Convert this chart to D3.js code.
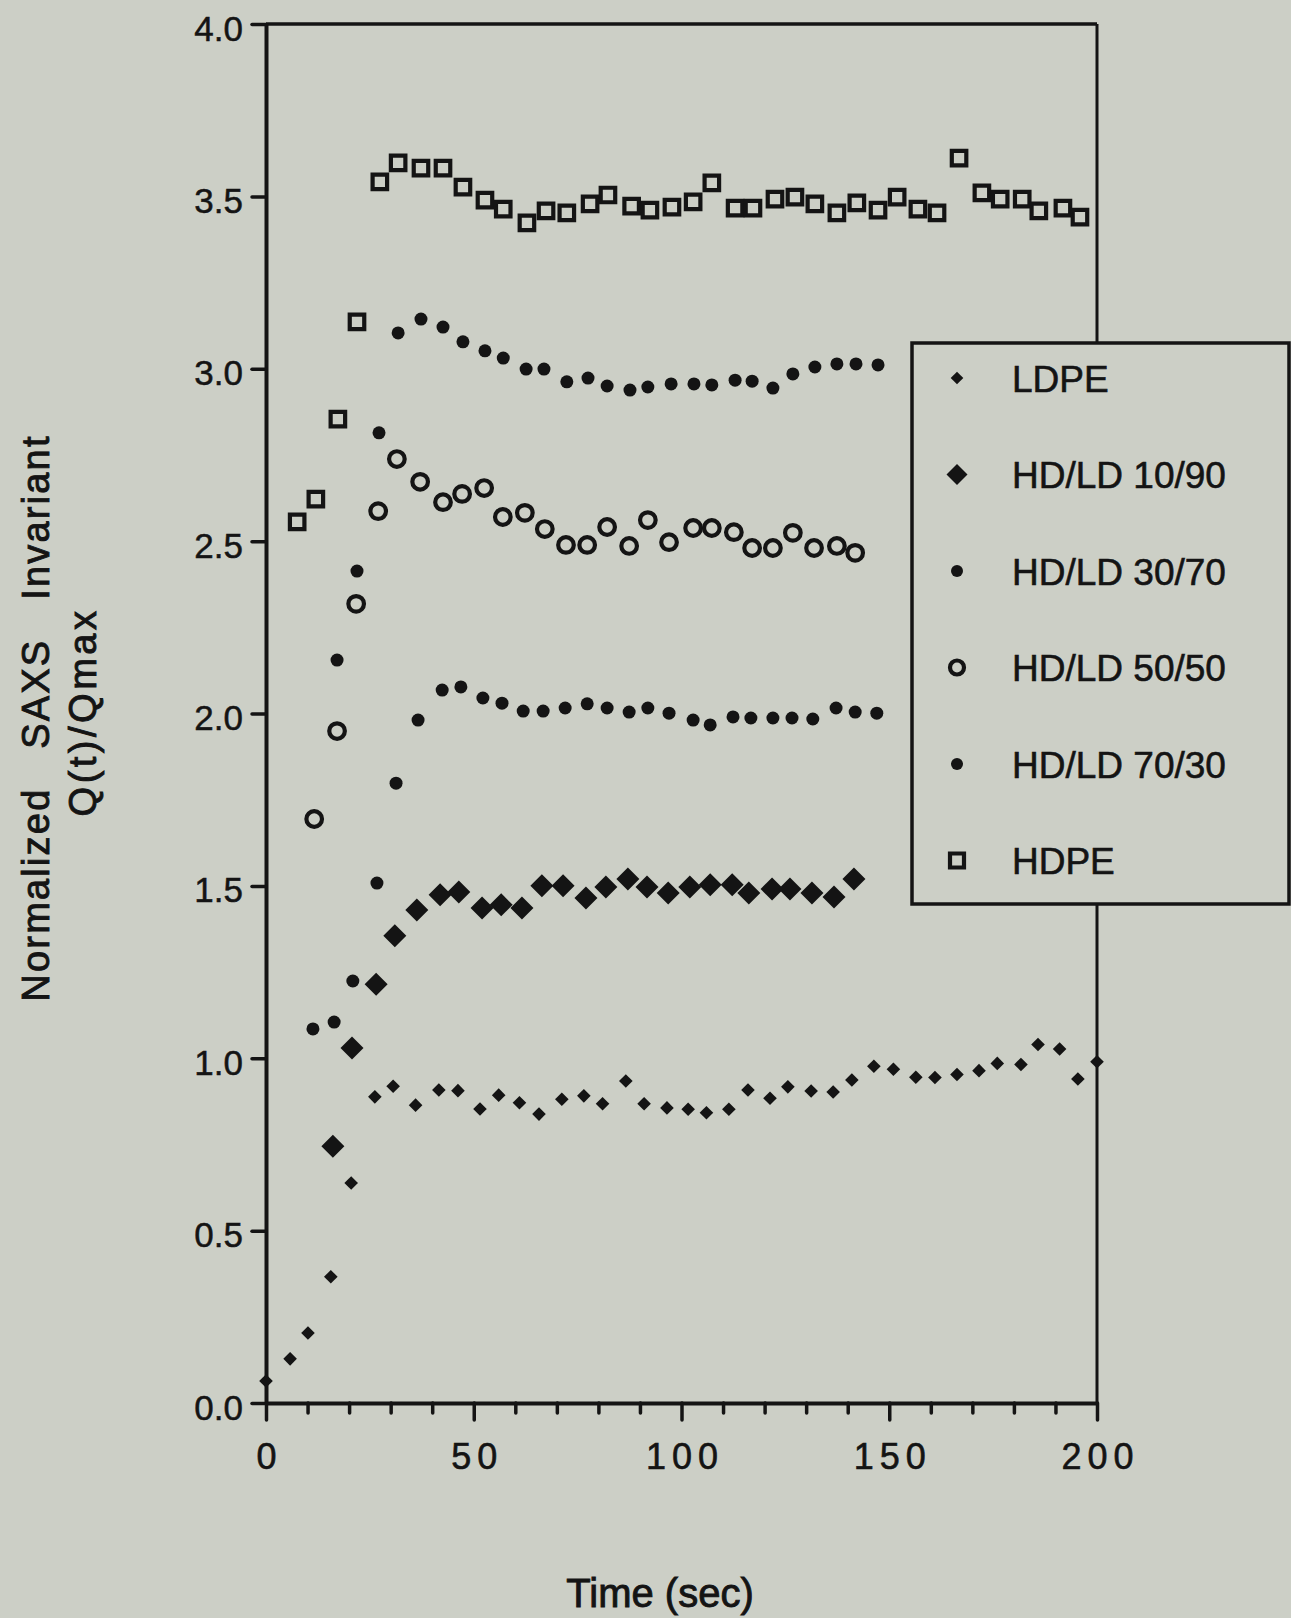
<!DOCTYPE html>
<html><head><meta charset="utf-8">
<script src="https://cdn.jsdelivr.net/npm/d3@7"></script>
<style>body{margin:0;background:#cccfc6}svg{display:block}</style>
</head><body>
<svg id="c" width="1291" height="1618"></svg>
<script>
// ---------- data ----------
const seriesNames = ["LDPE","HD/LD 10/90","HD/LD 30/70","HD/LD 50/50","HD/LD 70/30","HDPE"];

const timesLDPE = [0,5.8,10.1,15.6,20.5,26.2,30.6,36,41.6,46.2,51.5,56,61,65.7,71.2,76.5,81,86.6,91,96.5,101.6,106,111.4,116,121.3,125.6,131.2,136.5,141,146.3,151,156.4,161,166.3,171.6,176,181.7,185.8,191,195.4,200];
const valuesLDPE = [0.064,0.128,0.203,0.366,0.638,0.888,0.919,0.864,0.908,0.906,0.853,0.893,0.871,0.838,0.881,0.891,0.868,0.934,0.868,0.856,0.852,0.842,0.852,0.908,0.884,0.917,0.905,0.902,0.937,0.977,0.968,0.945,0.944,0.953,0.964,0.985,0.982,1.04,1.027,0.94,0.99];

const times1090 = [16.1,20.7,26.5,31,36.3,41.9,46.4,52,56.6,61.6,66.4,71.5,77,81.8,87.1,91.7,96.8,102,106.9,112.2,116.2,121.8,126.1,131.4,136.7,141.5];
const values1090 = [0.745,1.030,1.215,1.355,1.430,1.474,1.482,1.436,1.445,1.436,1.500,1.500,1.465,1.497,1.520,1.497,1.479,1.497,1.503,1.503,1.479,1.491,1.491,1.479,1.468,1.520];

const times3070 = [11.3,16.4,20.9,26.7,31.3,36.6,42.4,46.9,52.2,56.8,61.9,66.7,72,77.3,82.1,87.4,91.9,97,102.8,106.9,112.4,116.7,122,126.6,131.6,137.2,141.8,147];
const values3070 = [1.085,1.105,1.224,1.508,1.798,1.981,2.068,2.077,2.045,2.030,2.007,2.007,2.016,2.028,2.016,2.004,2.016,2.001,1.981,1.967,1.990,1.987,1.987,1.987,1.984,2.016,2.004,2.001];

const times5050 = [11.6,17.1,21.7,27,31.5,37.1,42.6,47.2,52.5,57,62.3,67.1,72.2,77.3,82.1,87.4,91.9,97,102.8,107.3,112.6,117,122,126.8,131.9,137.4,141.8];
const values5050 = [1.694,1.949,2.318,2.587,2.738,2.672,2.613,2.637,2.654,2.570,2.582,2.535,2.489,2.489,2.541,2.486,2.561,2.497,2.538,2.538,2.526,2.480,2.480,2.524,2.480,2.486,2.466];

const times7030 = [17.1,21.9,27.2,31.8,37.3,42.6,47.4,52.7,57.1,62.6,66.9,72.4,77.5,82.1,87.6,91.9,97.5,103,107.3,112.9,117,122,126.8,132.1,137.4,142,147.3];
const values7030 = [2.155,2.413,2.814,3.104,3.144,3.121,3.078,3.052,3.031,2.999,2.999,2.962,2.973,2.950,2.938,2.947,2.956,2.956,2.953,2.967,2.964,2.944,2.985,3.005,3.014,3.014,3.011];

const timesHDPE = [7.5,12,17.3,21.9,27.4,31.8,37.3,42.6,47.4,52.7,57.1,62.8,67.4,72.4,78,82.3,88,92.4,97.7,102.8,107.3,112.9,117.2,122.5,127.3,132.1,137.4,142.2,147.3,151.9,156.9,161.5,166.8,172.3,176.7,182,186,191.8,195.9];
const valuesHDPE = [2.556,2.622,2.854,3.136,3.542,3.597,3.582,3.582,3.527,3.489,3.463,3.423,3.458,3.452,3.478,3.504,3.472,3.460,3.469,3.484,3.539,3.466,3.466,3.492,3.498,3.478,3.452,3.481,3.460,3.498,3.463,3.452,3.611,3.510,3.492,3.492,3.458,3.466,3.440];

const xTicks = [0,50,100,150,200];
const xMinorTicks = [10,20,30,40,60,70,80,90,110,120,130,140,160,170,180,190];
const yTicks = [0,0.5,1,1.5,2,2.5,3,3.5,4];
const xTitle = "Time (sec)";
const yTitle1 = "Normalized SAXS Invariant";
const yTitle2 = "Q(t)/Qmax";

// ---------- drawing ----------
const W = 1291, H = 1618;
const bg = "#cccfc6", ink = "#141414";
const svg = d3.select("#c");
svg.append("rect").attr("width", W).attr("height", H).attr("fill", bg);

const x = d3.scaleLinear().domain([0, 200]).range([266, 1097]);
const y = d3.scaleLinear().domain([0, 4]).range([1403, 24]);

const font = "Liberation Sans, Arial, Helvetica, sans-serif";
const g = svg.append("g");

// frame: top and right
g.append("line").attr("x1", x(0)).attr("x2", x(200)).attr("y1", y(4)).attr("y2", y(4))
  .attr("stroke", ink).attr("stroke-width", 3.5);
g.append("line").attr("x1", x(200)).attr("x2", x(200)).attr("y1", y(4)).attr("y2", y(0))
  .attr("stroke", ink).attr("stroke-width", 3);

// y axis
const yAx = g.append("g").attr("transform", `translate(${x(0)},0)`)
  .call(d3.axisLeft(y).tickValues(yTicks).tickFormat(d3.format(".1f")).tickSize(14).tickSizeOuter(0).tickPadding(9));
// x minor ticks
const xMin = g.append("g").attr("transform", `translate(0,${y(0)})`)
  .call(d3.axisBottom(x).tickValues(xMinorTicks).tickFormat("").tickSize(10).tickSizeOuter(0));
xMin.select(".domain").remove();
// x axis
const xAx = g.append("g").attr("transform", `translate(0,${y(0)})`)
  .call(d3.axisBottom(x).tickValues(xTicks).tickFormat(d3.format("d")).tickSize(17).tickSizeOuter(0).tickPadding(23));

[yAx, xAx, xMin].forEach(a => {
  a.selectAll(".domain").attr("stroke", ink).attr("stroke-width", 4);
  a.selectAll(".tick line").attr("stroke", ink).attr("stroke-width", 3.5).attr("stroke-linecap", "round");
});
yAx.selectAll(".tick text").attr("font-family", font).attr("font-size", 35).attr("fill", ink)
  .attr("stroke", ink).attr("stroke-width", 0.5).attr("dy", "0.46em");
xAx.selectAll(".tick text").attr("font-family", font).attr("font-size", 36).attr("fill", ink)
  .attr("stroke", ink).attr("stroke-width", 0.6).attr("letter-spacing", 6).attr("dx", 3);

// axis titles
svg.append("text").attr("x", 660).attr("y", 1607).attr("text-anchor", "middle")
  .attr("font-family", font).attr("font-size", 40).attr("fill", ink)
  .attr("stroke", ink).attr("stroke-width", 0.9).text(xTitle);
svg.append("text").attr("transform", "translate(49,718) rotate(-90)").attr("text-anchor", "middle")
  .attr("font-family", font).attr("font-size", 38).attr("fill", ink)
  .attr("stroke", ink).attr("stroke-width", 0.9)
  .attr("letter-spacing", 2.2).attr("word-spacing", 26).text(yTitle1);
svg.append("text").attr("transform", "translate(96,712) rotate(-90)").attr("text-anchor", "middle")
  .attr("font-family", font).attr("font-size", 38).attr("fill", ink)
  .attr("stroke", ink).attr("stroke-width", 0.9)
  .attr("letter-spacing", 3.5).text(yTitle2);

// markers
const markerStyles = [
  {kind: "diamond", half: 6.8},      // LDPE
  {kind: "diamond", half: 11.5},     // 10/90
  {kind: "dot", r: 6.5},             // 30/70
  {kind: "circle", r: 7.8},          // 50/50
  {kind: "dot", r: 6.5},             // 70/30
  {kind: "square", side: 14.5}       // HDPE
];
const legendStyles = [
  {kind: "diamond", half: 6.3},
  {kind: "diamond", half: 10.5},
  {kind: "dot", r: 6},
  {kind: "circle", r: 7},
  {kind: "dot", r: 6},
  {kind: "square", side: 14}
];
function addMarker(parent, cx, cy, st) {
  const t = `translate(${cx},${cy})`;
  if (st.kind === "diamond") {
    const s = st.half * Math.SQRT2;
    parent.append("path").attr("d", d3.symbol(d3.symbolSquare, s * s)())
      .attr("transform", t + " rotate(45)").attr("fill", ink);
  } else if (st.kind === "dot") {
    parent.append("circle").attr("cx", cx).attr("cy", cy).attr("r", st.r).attr("fill", ink);
  } else if (st.kind === "circle") {
    parent.append("circle").attr("cx", cx).attr("cy", cy).attr("r", st.r)
      .attr("fill", "none").attr("stroke", ink).attr("stroke-width", 4.2);
  } else if (st.kind === "square") {
    parent.append("path").attr("d", d3.symbol(d3.symbolSquare, st.side * st.side)())
      .attr("transform", t).attr("fill", "none").attr("stroke", ink).attr("stroke-width", 4.2);
  }
}

const seriesTimes = [timesLDPE, times1090, times3070, times5050, times7030, timesHDPE];
const seriesValues = [valuesLDPE, values1090, values3070, values5050, values7030, valuesHDPE];
const marks = svg.append("g");
seriesNames.forEach((name, si) => {
  const sg = marks.append("g").attr("class", "series").attr("data-name", name);
  d3.zip(seriesTimes[si], seriesValues[si]).forEach(([t, v]) => addMarker(sg, x(t), y(v), markerStyles[si]));
});

// legend
const leg = svg.append("g");
leg.append("rect").attr("x", 912).attr("y", 343).attr("width", 377).attr("height", 561)
  .attr("fill", bg).attr("stroke", ink).attr("stroke-width", 3.5);
const legY0 = 378, legStep = 96.5;
seriesNames.forEach((name, i) => {
  const cy = legY0 + i * legStep;
  addMarker(leg, 957, cy, legendStyles[i]);
  leg.append("text").attr("x", 1012).attr("y", cy + 13.5)
    .attr("font-family", font).attr("font-size", 37).attr("fill", ink)
    .attr("stroke", ink).attr("stroke-width", 0.6).text(name);
});
</script>
</body></html>
